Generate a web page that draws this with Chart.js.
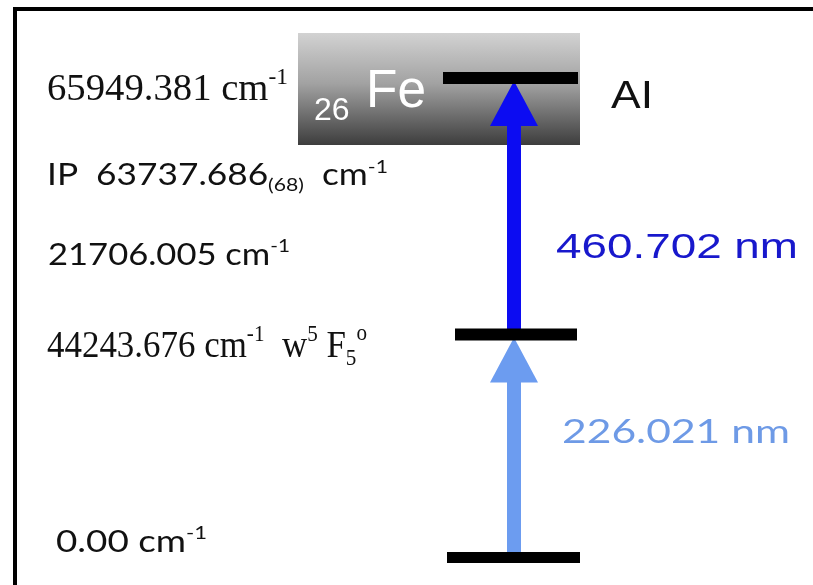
<!DOCTYPE html>
<html>
<head>
<meta charset="utf-8">
<script src="https://cdn.jsdelivr.net/npm/chart.js@4.4.1/dist/chart.umd.min.js"></script>
<style>
  html, body { margin: 0; padding: 0; background: #ffffff; }
  #wrap { width: 813px; height: 585px; }
</style>
</head>
<body>
<div id="wrap"><canvas id="scheme" width="813" height="585"></canvas></div>
<script>
// Two-step resonance ionization scheme of iron.
// Level energies in cm^-1, step wavelengths in nm.
const levelEnergies = [0.00, 44243.676, 65949.381];
const levelNames = ['ground', 'w5F5o', 'AI'];
const ionizationPotential = 63737.686;
const ipUncertainty = '(68)';
const stepWavelengths = [226.021, 460.702];
const stepFrom = [0, 1];
const stepTo = [1, 2];
const stepGap = '21706.005';
const elementZ = '26';
const elementSymbol = 'Fe';
const upperTag = 'AI';

// ---- layout & style ----
const W = 813, H = 585;
// schematic (non-linear) energy axis: fraction of plot height for each level
const LEVEL_FRAC = [0.047, 0.4282, 0.8667];
const LEVEL_SPAN = [[447, 580], [455, 577], [443, 578]];
const LEVEL_THICK = 12;
const ARROW_X = 514;
const SHAFT_W = 14, HEAD_W = 48, HEAD_L = 45;
const STEP_COLORS = ['#6c9cf0', '#0c0cf2'];
const SERIF = '"Liberation Serif", "Times New Roman", serif';
const SANS = '"Liberation Sans", Arial, sans-serif';
const HUMAN = 'Lato, "Open Sans", sans-serif';

// Broken energy scale: piecewise linear between the levels
class SchemeScale extends Chart.LinearScale {
  static id = 'scheme';
  static defaults = Chart.LinearScale.defaults;
  knots() { return levelEnergies.map((e, i) => [e, LEVEL_FRAC[i]]); }
  getPixelForValue(v) {
    if (v === null || v === undefined) return NaN;
    const k = this.knots();
    let i = 0;
    while (i < k.length - 2 && v > k[i + 1][0]) i++;
    const [e0, f0] = k[i], [e1, f1] = k[i + 1];
    const f = f0 + (v - e0) * (f1 - f0) / (e1 - e0);
    return this.bottom - f * (this.bottom - this.top);
  }
  getValueForPixel(p) {
    const k = this.knots();
    const f = (this.bottom - p) / (this.bottom - this.top);
    let i = 0;
    while (i < k.length - 2 && f > k[i + 1][1]) i++;
    const [e0, f0] = k[i], [e1, f1] = k[i + 1];
    return e0 + (f - f0) * (e1 - e0) / (f1 - f0);
  }
}
Chart.register(SchemeScale);

// text made of runs: {t, k: size factor, dy: baseline shift in em}
function drawRuns(ctx, x, y, runs, family, size, color, width) {
  ctx.save();
  let total = 0;
  const widths = runs.map(r => {
    ctx.font = `${Math.round(size * (r.k || 1))}px ${family}`;
    const w = ctx.measureText(r.t).width;
    total += w;
    return w;
  });
  const sx = width ? width / total : 1;
  ctx.translate(x, y);
  ctx.scale(sx, 1);
  ctx.fillStyle = color;
  ctx.textBaseline = 'alphabetic';
  ctx.textAlign = 'left';
  let cx = 0;
  runs.forEach((r, i) => {
    ctx.font = `${Math.round(size * (r.k || 1))}px ${family}`;
    ctx.fillText(r.t, cx, (r.dy || 0) * size);
    cx += widths[i];
  });
  ctx.restore();
}

const schemeDecor = {
  id: 'schemeDecor',
  beforeDatasetsDraw(chart) {
    const ctx = chart.ctx;
    const y = chart.scales.y;
    ctx.save();
    // frame
    ctx.fillStyle = '#000';
    ctx.fillRect(13, 7, 4, H - 7);
    ctx.fillRect(13, 7, W - 13, 4);
    // element badge
    const g = ctx.createLinearGradient(0, 33, 0, 145);
    g.addColorStop(0, '#d2d2d2');
    g.addColorStop(0.45, '#a2a2a2');
    g.addColorStop(1, '#3d3d3d');
    ctx.fillStyle = g;
    ctx.fillRect(298, 33, 282, 112);
    ctx.restore();
    drawRuns(ctx, 314, 120, [{ t: elementZ }], SANS, 32, '#ffffff');
    drawRuns(ctx, 366, 107, [{ t: elementSymbol }], SANS, 53, '#ffffff', 60);

    // excitation steps
    stepWavelengths.forEach((wl, i) => {
      const yLow = y.getPixelForValue(levelEnergies[stepFrom[i]]);
      const yHigh = y.getPixelForValue(levelEnergies[stepTo[i]]) + 3;
      const base = yHigh + HEAD_L;
      ctx.save();
      ctx.fillStyle = STEP_COLORS[i];
      ctx.fillRect(ARROW_X - SHAFT_W / 2, base - 1, SHAFT_W, yLow - base + 1);
      ctx.beginPath();
      ctx.moveTo(ARROW_X, yHigh);
      ctx.lineTo(ARROW_X + HEAD_W / 2, base);
      ctx.lineTo(ARROW_X - HEAD_W / 2, base);
      ctx.closePath();
      ctx.fill();
      ctx.restore();
    });
  },
  afterDatasetsDraw(chart) {
    const ctx = chart.ctx;
    const y = chart.scales.y;
    const py = e => y.getPixelForValue(e);
    const sup = t => ({ t, k: 0.6, dy: -0.42 });
    const sub = t => ({ t, k: 0.6, dy: 0.2 });

    // level energies
    drawRuns(ctx, 47, py(levelEnergies[2]) + 22,
      [{ t: levelEnergies[2].toFixed(3) + ' cm' }, sup('-1')], SERIF, 38, '#111', 241);
    drawRuns(ctx, 47, py(levelEnergies[1]) + 22.5,
      [{ t: levelEnergies[1].toFixed(3) + ' cm' }, sup('-1'), { t: '  w' }, sup('5'),
       { t: ' F' }, sub('5'), { t: 'o', k: 0.6, dy: -0.45 }], SERIF, 38, '#111', 320);
    drawRuns(ctx, 56, py(levelEnergies[0]) - 5.5,
      [{ t: levelEnergies[0].toFixed(2) + ' cm' }, sup('-1')], HUMAN, 30, '#111', 151);

    // ionization potential and step energy
    drawRuns(ctx, 47, py(ionizationPotential) + 81,
      [{ t: 'IP  ' + ionizationPotential.toFixed(3) }, sub(ipUncertainty), { t: '  cm' }, sup('-1')],
      HUMAN, 30, '#111', 341);
    drawRuns(ctx, 48, 265, [{ t: stepGap + ' cm' }, sup('-1')], HUMAN, 30, '#111', 242);

    // upper level tag
    drawRuns(ctx, 611, py(levelEnergies[2]) + 30, [{ t: upperTag }], SANS, 39, '#111', 42);

    // step wavelengths
    drawRuns(ctx, 556, py(levelEnergies[1]) - 77, [{ t: stepWavelengths[1].toFixed(3) + ' nm' }],
      SANS, 35, '#1818cc', 242);
    drawRuns(ctx, 562, py(levelEnergies[0]) - 114.5, [{ t: stepWavelengths[0].toFixed(3) + ' nm' }],
      HUMAN, 32, '#6e9ae6', 228);
  }
};

new Chart(document.getElementById('scheme'), {
  type: 'line',
  data: {
    datasets: levelEnergies.map((e, i) => ({
      label: levelNames[i],
      data: [{ x: LEVEL_SPAN[i][0], y: e }, { x: LEVEL_SPAN[i][1], y: e }],
      borderColor: '#000000',
      borderWidth: i === 0 ? 11 : LEVEL_THICK,
      borderCapStyle: 'butt',
      pointRadius: 0,
      fill: false,
      tension: 0
    }))
  },
  options: {
    responsive: false,
    animation: false,
    events: [],
    layout: { padding: 0 },
    plugins: { legend: { display: false }, tooltip: { enabled: false } },
    scales: {
      x: { type: 'linear', min: 0, max: W, display: false },
      y: { type: 'scheme', min: -3000, max: 75000, display: false }
    }
  },
  plugins: [schemeDecor]
});
</script>
</body>
</html>
